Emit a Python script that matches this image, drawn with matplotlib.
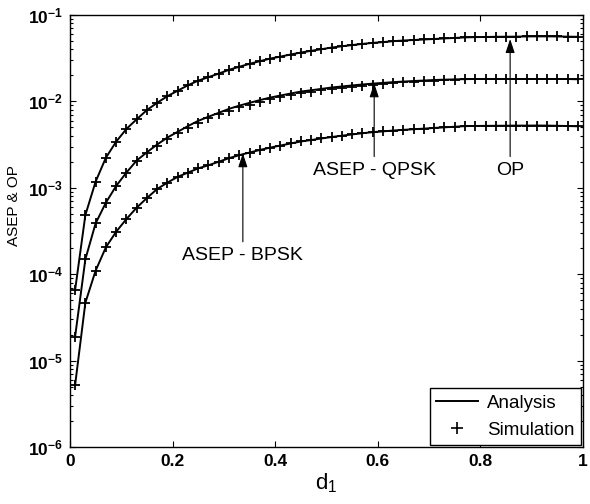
import numpy as np
import matplotlib
matplotlib.use('Agg')
import matplotlib.pyplot as plt
from matplotlib.ticker import FuncFormatter, LogLocator, FixedLocator

plt.rcParams['font.family'] = ['Liberation Sans', 'DejaVu Sans']
plt.rcParams['mathtext.fontset'] = 'custom'
plt.rcParams['mathtext.rm'] = 'Liberation Sans'
plt.rcParams['mathtext.bf'] = 'Liberation Sans:bold'
plt.rcParams['mathtext.it'] = 'Liberation Sans:italic'

# d1 sample points (0.01, 0.03, ..., 0.99)
d1 = [round(0.01 + 0.02 * i, 2) for i in range(50)]

# values
op = [6.56e-5, 4.84e-4, 1.18e-3, 2.23e-3, 3.42e-3, 4.80e-3, 6.21e-3, 7.94e-3, 9.66e-3, 1.15e-2,
      1.33e-2, 1.54e-2, 1.74e-2, 1.91e-2, 2.10e-2, 2.32e-2, 2.52e-2, 2.72e-2, 2.92e-2, 3.13e-2,
      3.30e-2, 3.49e-2, 3.68e-2, 3.85e-2, 4.02e-2, 4.20e-2, 4.35e-2, 4.49e-2, 4.63e-2, 4.76e-2,
      4.86e-2, 4.98e-2, 5.07e-2, 5.14e-2, 5.21e-2, 5.28e-2, 5.36e-2, 5.43e-2, 5.51e-2, 5.55e-2,
      5.57e-2, 5.60e-2, 5.61e-2, 5.62e-2, 5.65e-2, 5.66e-2, 5.66e-2, 5.65e-2, 5.62e-2, 5.60e-2]
op_sim = list(op)

qpsk = [1.89e-5, 1.49e-4, 3.88e-4, 6.73e-4, 1.05e-3, 1.50e-3, 2.07e-3, 2.58e-3, 3.17e-3, 3.82e-3,
        4.45e-3, 5.18e-3, 5.96e-3, 6.65e-3, 7.38e-3, 8.20e-3, 8.93e-3, 9.62e-3, 1.035e-2, 1.107e-2,
        1.169e-2, 1.233e-2, 1.300e-2, 1.346e-2, 1.396e-2, 1.449e-2, 1.489e-2, 1.531e-2, 1.570e-2, 1.607e-2,
        1.637e-2, 1.671e-2, 1.698e-2, 1.722e-2, 1.746e-2, 1.770e-2, 1.786e-2, 1.799e-2, 1.811e-2, 1.816e-2,
        1.816e-2, 1.816e-2, 1.816e-2, 1.816e-2, 1.816e-2, 1.816e-2, 1.816e-2, 1.816e-2, 1.816e-2, 1.803e-2]
qpsk_sim = [1.89e-5, 1.49e-4, 3.88e-4, 6.73e-4, 1.05e-3, 1.48e-3, 2.02e-3, 2.50e-3, 3.05e-3, 3.66e-3,
            4.27e-3, 4.95e-3, 5.70e-3, 6.36e-3, 7.06e-3, 7.84e-3, 8.54e-3, 9.20e-3, 9.90e-3, 1.060e-2,
            1.120e-2, 1.182e-2, 1.245e-2, 1.292e-2, 1.341e-2, 1.393e-2, 1.435e-2, 1.478e-2, 1.518e-2, 1.558e-2,
            1.592e-2, 1.628e-2, 1.659e-2, 1.688e-2, 1.715e-2, 1.745e-2, 1.765e-2, 1.783e-2, 1.798e-2, 1.808e-2,
            1.810e-2, 1.812e-2, 1.814e-2, 1.815e-2, 1.815e-2, 1.816e-2, 1.816e-2, 1.815e-2, 1.812e-2, 1.803e-2]

bpsk = [5.22e-6, 4.68e-5, 1.10e-4, 2.05e-4, 3.10e-4, 4.35e-4, 5.89e-4, 7.62e-4, 9.69e-4, 1.15e-3,
        1.34e-3, 1.50e-3, 1.68e-3, 1.824e-3, 2.004e-3, 2.203e-3, 2.388e-3, 2.559e-3, 2.742e-3, 2.917e-3,
        3.083e-3, 3.258e-3, 3.436e-3, 3.573e-3, 3.724e-3, 3.873e-3, 4.009e-3, 4.150e-3, 4.285e-3, 4.406e-3,
        4.498e-3, 4.603e-3, 4.688e-3, 4.764e-3, 4.842e-3, 4.932e-3, 5.012e-3, 5.093e-3, 5.176e-3, 5.200e-3,
        5.212e-3, 5.224e-3, 5.236e-3, 5.248e-3, 5.248e-3, 5.260e-3, 5.248e-3, 5.224e-3, 5.188e-3, 5.152e-3]
bpsk_sim = list(bpsk)

fig = plt.figure(figsize=(5.9, 5.04), dpi=100)
ax = fig.add_axes([0.1186, 0.1131, 0.8695, 0.8571])

for ana, sim in [(op, op_sim), (qpsk, qpsk_sim), (bpsk, bpsk_sim)]:
    ax.plot(d1, ana, 'k-', lw=1.4)
    ax.plot(d1, sim, 'k+', ms=7.5, mew=1.3, ls='none')

ax.set_yscale('log')
ax.set_xlim(0, 1)
ax.set_ylim(1e-6, 1e-1)

ax.xaxis.set_major_locator(FixedLocator([0, 0.2, 0.4, 0.6, 0.8, 1.0]))
ax.xaxis.set_major_formatter(FuncFormatter(lambda v, p: '%g' % v))
ax.yaxis.set_major_locator(LogLocator(base=10, numticks=10))
ax.yaxis.set_minor_locator(LogLocator(base=10, subs=np.arange(2, 10), numticks=10))
ax.yaxis.set_major_formatter(FuncFormatter(lambda v, p: r'$\mathbf{10^{%d}}$' % round(np.log10(v))))
ax.tick_params(which='both', direction='in', top=True, right=True, width=0.8)
ax.tick_params(which='major', length=4, labelsize=12.5, pad=5)
ax.tick_params(which='minor', length=2)
for lab in ax.get_xticklabels():
    lab.set_fontweight('bold')
for s in ax.spines.values():
    s.set_linewidth(1.0)

ax.set_xlabel(r'd$_{\mathrm{1}}$', fontsize=16, labelpad=2)
ax.set_ylabel('ASEP & OP', fontsize=11, labelpad=4)
ax.yaxis.set_label_coords(-0.095, 0.56)

arrow = dict(arrowstyle='-|>,head_length=0.6,head_width=0.2', color='k', lw=0.8, shrinkA=2, shrinkB=0)
ax.annotate('OP', xy=(0.858, 5.27e-2), xytext=(0.858, 1.58e-3), ha='center', va='center',
            fontsize=14, arrowprops=arrow)
ax.annotate('ASEP - QPSK', xy=(0.593, 1.62e-2), xytext=(0.593, 1.58e-3), ha='center', va='center',
            fontsize=14, arrowprops=arrow)
ax.annotate('ASEP - BPSK', xy=(0.337, 2.51e-3), xytext=(0.337, 1.63e-4), ha='center', va='center',
            fontsize=14, arrowprops=arrow)

h1, = ax.plot([], [], 'k-', lw=1.4)
h2, = ax.plot([], [], 'k+', ms=9, mew=1.2, ls='none')
leg = ax.legend([h1, h2], ['Analysis', 'Simulation'], loc='lower right', fontsize=13.5,
                fancybox=False, edgecolor='k', framealpha=1, borderaxespad=0.1,
                handlelength=2.2, handletextpad=0.5, borderpad=0.35, labelspacing=0.5)
leg.get_frame().set_linewidth(1.0)

fig.savefig('out.png', dpi=100)
